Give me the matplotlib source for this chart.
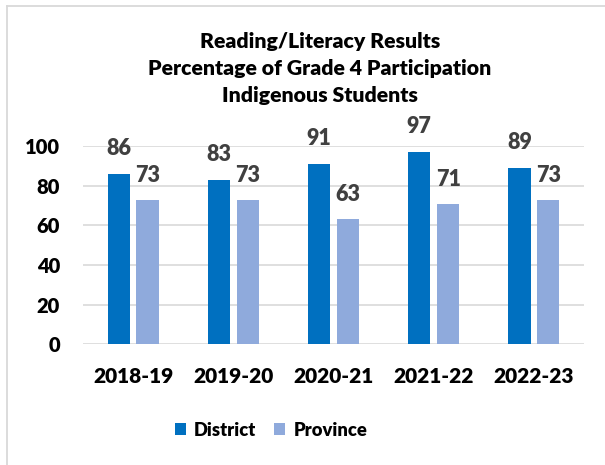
import matplotlib
matplotlib.use("Agg")
import matplotlib.pyplot as plt
import numpy as np
from matplotlib.lines import Line2D

categories = ["2018-19", "2019-20", "2020-21", "2021-22", "2022-23"]
district = [86, 83, 91, 97, 89]
province = [73, 73, 63, 71, 73]
series_names = ["District", "Province"]
yticks = [0, 20, 40, 60, 80, 100]
title_lines = ["Reading/Literacy Results", "Percentage of Grade 4 Participation", "Indigenous Students"]

plt.rcParams['font.family'] = ['Lato', 'DejaVu Sans']
WT = 'heavy'

fig = plt.figure(figsize=(6.05, 4.65), dpi=100)
ax = fig.add_axes([83/605, 1-344.3/465, (584-83)/605, (344.3-146)/465])

x = np.arange(len(categories))
w = 0.222
off = 0.144
c1 = "#0070C0"
c2 = "#8FAADC"
b1 = ax.bar(x - off, district, w, color=c1, label=series_names[0], zorder=3)
b2 = ax.bar(x + off, province, w, color=c2, label=series_names[1], zorder=3)

for xi, v in zip(x - off, district):
    ax.annotate(str(v), (xi, v), xytext=(0, 19), textcoords='offset pixels',
                ha='center', va='baseline', fontsize=15.5, fontweight=WT, color='#404040',
                annotation_clip=False)
for xi, v in zip(x + off, province):
    ax.annotate(str(v), (xi, v), xytext=(0, 18), textcoords='offset pixels',
                ha='center', va='baseline', fontsize=15.5, fontweight=WT, color='#404040',
                annotation_clip=False)

ax.set_xlim(-0.5, len(categories) - 0.5)
ax.set_ylim(0, 100)
ax.set_yticks(yticks)
ax.set_yticklabels([str(t) for t in yticks], fontsize=14.5, fontweight=WT)
ax.set_xticks(x)
ax.set_xticklabels(categories, fontsize=15, fontweight=WT)
ax.tick_params(length=0)
ax.tick_params(axis='y', pad=16.5)
ax.tick_params(axis='x', pad=16)
for s in ax.spines.values():
    s.set_visible(False)
ax.yaxis.grid(True, color='#D9D9D9', linewidth=1.2, zorder=0)
ax.set_axisbelow(True)

baselines = [48, 75, 101.7]
for line, yb in zip(title_lines, baselines):
    fig.text(320/605, 1 - yb / 465, line, ha='center', va='baseline',
             fontsize=15.3, fontweight=WT, color='black')

leg = fig.legend(handles=[b1, b2], loc='center', bbox_to_anchor=(0.448, 1 - 430/465),
                 ncol=2, frameon=False, handlelength=0.6, handleheight=0.6,
                 handletextpad=0.45, columnspacing=1.0, prop={'weight': WT, 'size': 13.2})

# frame (left and top edges visible)
fig.add_artist(Line2D([6.5/605, 6.5/605], [0, 1 - 6.5/465], color='#D9D9D9', lw=1.3))
fig.add_artist(Line2D([6.5/605, 1], [1 - 6.5/465, 1 - 6.5/465], color='#D9D9D9', lw=1.3))

fig.savefig("out.png", dpi=100, facecolor='white')
